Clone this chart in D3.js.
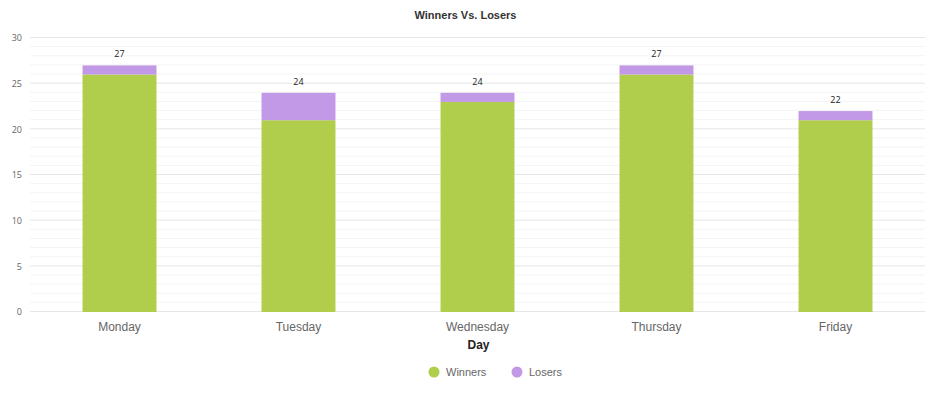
<!DOCTYPE html>
<html>
<head>
  <meta charset="UTF-8" />
  <title>Winners Vs. Losers</title>
  <script src="https://cdn.jsdelivr.net/npm/d3@7"></script>
  <style>
    body { margin: 0; padding: 0; background: #fff; font-family: 'Liberation Sans', Arial, sans-serif; }
    #chart { width: 931px; height: 396px; }
  </style>
</head>
<body>
  <div id="chart"></div>
  <script>
    // chart data
    const days = ['Monday', 'Tuesday', 'Wednesday', 'Thursday', 'Friday']
    const winners = [26, 21, 23, 26, 21]
    const losers = [1, 3, 1, 1, 1]
    const yTicks = [0, 5, 10, 15, 20, 25, 30]
    const seriesNames = ['Winners', 'Losers']
    const seriesColors = ['#b0cd4c', '#c299e6']

    const width = 931
    const height = 396
    const margin = { top: 38, right: 6, bottom: 84, left: 30 }

    const svg = d3.select('#chart')
      .append('svg')
      .attr('width', width)
      .attr('height', height)

    const x = d3.scaleBand()
      .domain(days)
      .range([margin.left, width - margin.right])
      .paddingInner(0.587)
      .paddingOuter(0.2935)

    const y = d3.scaleLinear()
      .domain([0, 30])
      .range([height - margin.bottom, margin.top])

    // minor gridlines, every 1
    svg.append('g')
      .selectAll('line')
      .data(d3.range(0, 31).filter(v => v % 5 !== 0))
      .enter()
      .append('line')
      .attr('x1', margin.left)
      .attr('x2', width - margin.right)
      .attr('y1', d => y(d) - 0.5)
      .attr('y2', d => y(d) - 0.5)
      .attr('stroke', '#f4f4f4')
      .attr('stroke-width', 1)

    // major gridlines
    svg.append('g')
      .selectAll('line')
      .data(yTicks)
      .enter()
      .append('line')
      .attr('x1', margin.left)
      .attr('x2', width - margin.right)
      .attr('y1', d => y(d) - 0.5)
      .attr('y2', d => y(d) - 0.5)
      .attr('stroke', '#e6e6e6')
      .attr('stroke-width', 1)

    // y axis labels
    const yAxis = d3.axisLeft(y).tickValues(yTicks).tickSize(0).tickPadding(8)
    const yG = svg.append('g')
      .attr('transform', `translate(${margin.left},0)`)
      .call(yAxis)
    yG.select('.domain').remove()
    yG.selectAll('text')
      .attr('fill', '#666')
      .style('font-size', '9px')
      .style('font-family', "'Open Sans', sans-serif")

    // stacked data
    const table = days.map((d, i) => ({ day: d, Winners: winners[i], Losers: losers[i] }))
    const stacked = d3.stack().keys(seriesNames)(table)

    svg.append('g')
      .selectAll('g')
      .data(stacked)
      .enter()
      .append('g')
      .attr('fill', (d, i) => seriesColors[i])
      .selectAll('rect')
      .data(d => d)
      .enter()
      .append('rect')
      .attr('x', d => x(d.data.day))
      .attr('width', x.bandwidth())
      .attr('y', d => y(d[1]))
      .attr('height', d => y(d[0]) - y(d[1]))

    // totals above bars
    svg.append('g')
      .selectAll('text')
      .data(table)
      .enter()
      .append('text')
      .attr('x', d => x(d.day) + x.bandwidth() / 2)
      .attr('y', d => y(d.Winners + d.Losers) - 8)
      .attr('text-anchor', 'middle')
      .attr('fill', '#222')
      .style('font-size', '9px')
      .style('font-family', "'Open Sans', sans-serif")
      .text(d => d.Winners + d.Losers)

    // x axis labels
    const xAxis = d3.axisBottom(x).tickSize(0).tickPadding(10)
    const xG = svg.append('g')
      .attr('transform', `translate(0,${height - margin.bottom})`)
      .call(xAxis)
    xG.select('.domain').remove()
    xG.selectAll('text')
      .attr('fill', '#666')
      .style('font-size', '12px')
      .style('font-family', "'Liberation Sans', Arial, sans-serif")

    // axis title
    svg.append('text')
      .attr('x', (margin.left + width - margin.right) / 2 + 1)
      .attr('y', 349)
      .attr('text-anchor', 'middle')
      .attr('fill', '#222')
      .style('font-size', '12px')
      .style('font-weight', 'bold')
      .style('font-family', "'Liberation Sans', Arial, sans-serif")
      .text('Day')

    // title
    svg.append('text')
      .attr('x', width / 2)
      .attr('y', 19)
      .attr('text-anchor', 'middle')
      .attr('fill', '#333')
      .style('font-size', '11px')
      .style('font-weight', 'bold')
      .style('font-family', "'Liberation Sans', Arial, sans-serif")
      .text('Winners Vs. Losers')

    // legend
    const legendX = [434, 517]
    const legend = svg.append('g')
      .selectAll('g')
      .data(seriesNames)
      .enter()
      .append('g')
      .attr('transform', (d, i) => `translate(${legendX[i]},372)`)
    legend.append('circle')
      .attr('r', 5.5)
      .attr('fill', (d, i) => seriesColors[i])
    legend.append('text')
      .attr('x', 12)
      .attr('y', 4)
      .attr('fill', '#666')
      .style('font-size', '11px')
      .style('font-family', "'Liberation Sans', Arial, sans-serif")
      .text(d => d)
  </script>
</body>
</html>
